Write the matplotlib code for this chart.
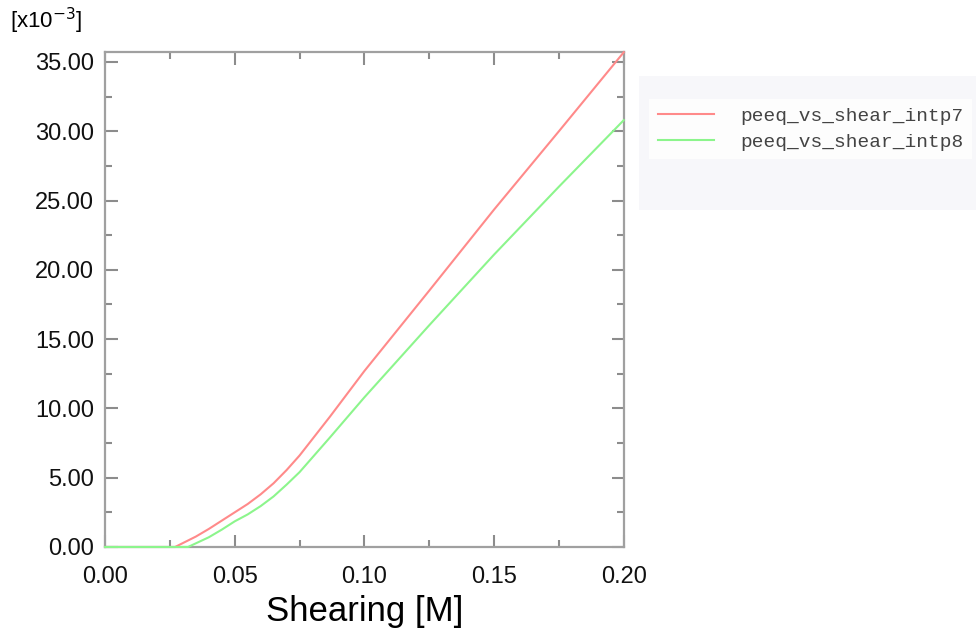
import numpy as np
import matplotlib
matplotlib.use("Agg")
import matplotlib.pyplot as plt
from matplotlib.ticker import MultipleLocator, FormatStrFormatter
from matplotlib.patches import Rectangle

# data (y in units of 1e-3)
x_intp7 = [0.0, 0.027, 0.035, 0.040, 0.045, 0.050, 0.055, 0.060, 0.065, 0.070, 0.075, 0.0867, 0.100, 0.125, 0.150, 0.175, 0.200]
y_intp7 = [0.0, 0.0, 0.75, 1.3, 1.9, 2.5, 3.1, 3.8, 4.6, 5.55, 6.6, 9.4, 12.7, 18.5, 24.35, 30.0, 35.7]
x_intp8 = [0.0, 0.032, 0.040, 0.045, 0.050, 0.055, 0.060, 0.065, 0.070, 0.075, 0.0867, 0.100, 0.125, 0.150, 0.175, 0.200]
y_intp8 = [0.0, 0.0, 0.7, 1.25, 1.85, 2.35, 2.95, 3.65, 4.5, 5.4, 7.9, 10.8, 16.0, 21.1, 26.0, 30.8]
labels = ["peeq_vs_shear_intp7", "peeq_vs_shear_intp8"]

plt.rcParams['font.family'] = ['Liberation Sans', 'DejaVu Sans']

fig = plt.figure(figsize=(9.76, 6.37), dpi=100)
fig.patches.append(Rectangle((0.655, 0.67), 0.345, 0.21, transform=fig.transFigure,
                             facecolor='#f7f7fa', edgecolor='none', zorder=-5))
ax = fig.add_axes([0.1076, 0.1413, 0.5315, 0.7771])

ax.plot(x_intp7, y_intp7, color='#ff8a8a', lw=1.5, label=labels[0], clip_on=False, zorder=4)
ax.plot(x_intp8, y_intp8, color='#8cf58c', lw=1.5, label=labels[1], clip_on=False, zorder=5)

ax.set_xlim(0, 0.2)
ax.set_ylim(0, 35.72)
ax.xaxis.set_major_locator(MultipleLocator(0.05))
ax.xaxis.set_minor_locator(MultipleLocator(0.025))
ax.yaxis.set_major_locator(MultipleLocator(5))
ax.yaxis.set_minor_locator(MultipleLocator(2.5))
ax.xaxis.set_major_formatter(FormatStrFormatter('%.2f'))
ax.yaxis.set_major_formatter(FormatStrFormatter('%.2f'))
ax.tick_params(which='both', direction='in', top=True, right=True, color='#8c8c8c', width=1.5,
               labelsize=17, labelcolor='#111111')
ax.tick_params(which='major', length=9)
ax.tick_params(which='minor', length=5)
ax.tick_params(axis='x', which='major', pad=14)
ax.tick_params(axis='y', which='major', pad=8)
for s in ax.spines.values():
    s.set_color('#a0a0a0')
    s.set_linewidth(1.6)

ax.set_xlabel('Shearing [M]', fontsize=25, labelpad=5)
fig.text(0.01, 0.955, r'[x10$^{-3}$]', fontsize=16)

leg = ax.legend(loc='upper left', bbox_to_anchor=(1.03, 0.925), frameon=True, fancybox=False,
                prop={'family': 'Liberation Mono', 'size': 14}, handlelength=2.9, handletextpad=1.35,
                labelspacing=0.4, borderpad=0.45)
leg.get_frame().set_facecolor('white')
leg.get_frame().set_edgecolor('none')
for t in leg.get_texts():
    t.set_color('#444444')

fig.savefig('out.png', dpi=100)
